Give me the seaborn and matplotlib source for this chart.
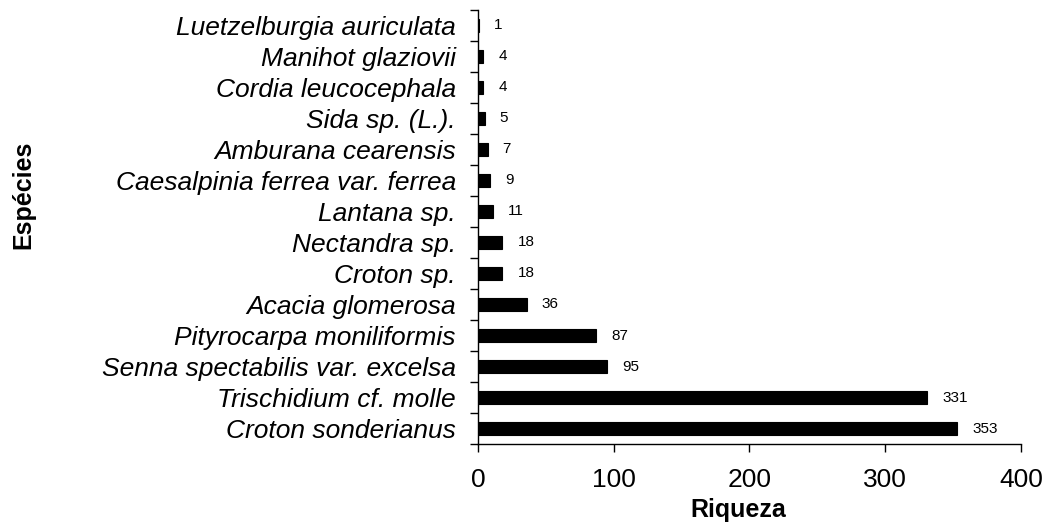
"""
Riqueza por espécie: horizontal bar chart in the Excel style.
"""

import numpy as np
import pandas as pd
import matplotlib.pyplot as plt
import seaborn as sns
from matplotlib.ticker import FixedLocator

# Data (top to bottom)
species = [
    "Luetzelburgia auriculata",
    "Manihot glaziovii",
    "Cordia leucocephala",
    "Sida sp. (L.).",
    "Amburana cearensis",
    "Caesalpinia ferrea var. ferrea",
    "Lantana sp.",
    "Nectandra sp.",
    "Croton sp.",
    "Acacia glomerosa",
    "Pityrocarpa moniliformis",
    "Senna spectabilis var. excelsa",
    "Trischidium cf. molle",
    "Croton sonderianus",
]
richness = [1, 4, 4, 5, 7, 9, 11, 18, 18, 36, 87, 95, 331, 353]
x_ticks = [0, 100, 200, 300, 400]

sns.set_theme(style="white")
plt.rcParams["font.family"] = ["Liberation Sans", "DejaVu Sans"]
plt.rcParams["text.color"] = "black"
plt.rcParams["axes.labelcolor"] = "black"
plt.rcParams["xtick.color"] = "black"
plt.rcParams["ytick.color"] = "black"

df = pd.DataFrame({"especie": species, "riqueza": richness})

fig = plt.figure(figsize=(10.46, 5.23), dpi=100)
ax = fig.add_axes([0.457, 0.151, 0.519, 0.830])

sns.barplot(data=df, x="riqueza", y="especie", orient="h", color="black",
            width=0.44, saturation=1, edgecolor="black", linewidth=0.8, ax=ax)

# Value labels
for i, val in enumerate(richness):
    ax.text(val + 11, i, str(val), va="center", ha="left", fontsize=11)

ax.set_xlim(0, 400)
ax.set_ylim(len(species) - 0.5, -0.5)
ax.set_xticks(x_ticks)
ax.set_xticklabels([str(t) for t in x_ticks], fontsize=19)
ax.set_yticks(range(len(species)))
ax.set_yticklabels(species, fontsize=19, style="italic")

# Category tick marks sit between bars, as in Excel
ax.yaxis.set_minor_locator(FixedLocator(np.arange(-0.5, len(species), 1)))
ax.tick_params(axis="y", which="major", length=0, pad=16)
ax.tick_params(axis="y", which="minor", length=6, width=1, direction="out", left=True)
ax.tick_params(axis="x", which="major", length=6, width=1, direction="out", bottom=True, pad=11)

for side in ["top", "right"]:
    ax.spines[side].set_visible(False)
for side in ["left", "bottom"]:
    ax.spines[side].set_color("black")
    ax.spines[side].set_linewidth(1)

ax.set_xlabel("")
ax.set_ylabel("")
fig.text(738 / 1046, 0.012, "Riqueza", fontsize=18, fontweight="bold",
         va="baseline", ha="center")
fig.text(0.022, 0.627, "Espécies", rotation=90, fontsize=18, fontweight="bold",
         va="center", ha="center")

fig.savefig("out.png", dpi=100)
